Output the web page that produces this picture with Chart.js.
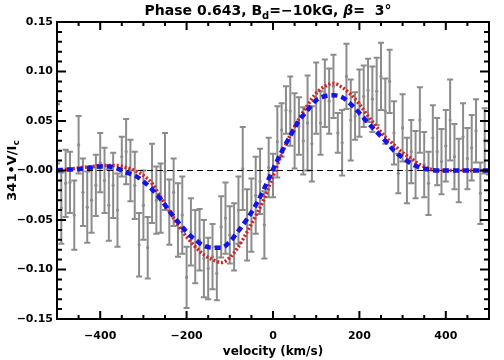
<!DOCTYPE html>
<html>
<head>
<meta charset="utf-8">
<script src="https://cdn.jsdelivr.net/npm/chart.js@4.4.1/dist/chart.umd.min.js"></script>
<style>
  body { margin: 0; background: #fff; }
  canvas { display: block; }
</style>
</head>
<body>
<canvas id="stokesChart" width="504" height="360"></canvas>
<script>
// observed Stokes V (grey points with error bars), km/s
const velocity = [
  -500, -490, -480, -470, -460, -450, -440, -430, -420, -410,
  -400, -390, -380, -370, -360, -350, -340, -330, -320, -310,
  -300, -290, -280, -270, -260, -250, -240, -230, -220, -210,
  -200, -190, -180, -170, -160, -150, -140, -130, -120, -110,
  -100, -90, -80, -70, -60, -50, -40, -30, -20, -10,
  0, 10, 20, 30, 40, 50, 60, 70, 80, 90,
  100, 110, 120, 130, 140, 150, 160, 170, 180, 190,
  200, 210, 220, 230, 240, 250, 260, 270, 280, 290,
  300, 310, 320, 330, 340, 350, 360, 370, 380, 390,
  400, 410, 420, 430, 440, 450, 460, 470, 480, 490, 500
];
const observed = [
  0.037, -0.038, -0.013, -0.012, -0.045, 0.026, -0.022, -0.037, -0.030, -0.015,
  0.008, -0.010, -0.035, -0.015, -0.040, 0.014, 0.019, 0.000, -0.015, -0.075,
  -0.035, -0.078, -0.013, -0.030, -0.028, -0.001, -0.042, -0.022, -0.050, -0.045,
  -0.108, -0.062, -0.077, -0.070, -0.089, -0.099, -0.087, -0.104, -0.057, -0.048,
  -0.065, -0.067, -0.040, 0.002, -0.055, -0.045, -0.025, -0.011, -0.055, 0.003,
  -0.005, 0.029, 0.041, 0.061, 0.060, 0.040, 0.045, 0.030, 0.048, 0.027,
  0.073, 0.048, 0.078, 0.070, 0.085, 0.038, 0.028, 0.095, 0.051, 0.055,
  0.068, 0.075, 0.081, 0.072, 0.080, 0.095, 0.060, 0.090, 0.038, -0.003,
  0.043, 0.000, 0.019, 0.006, 0.051, 0.006, -0.013, 0.033, 0.019, 0.009,
  0.025, 0.051, 0.014, 0.000, 0.034, 0.012, 0.023, 0.040, -0.023, 0.030, 0.028
];
const obsError = [
  0.030, 0.036, 0.034, 0.031, 0.035, 0.029, 0.034, 0.036, 0.033, 0.031,
  0.030, 0.033, 0.036, 0.033, 0.037, 0.020, 0.033, 0.031, 0.034, 0.032,
  0.035, 0.031, 0.040, 0.034, 0.035, 0.039, 0.033, 0.034, 0.037, 0.039,
  0.031, 0.034, 0.037, 0.031, 0.039, 0.031, 0.033, 0.027, 0.031, 0.036,
  0.029, 0.034, 0.034, 0.042, 0.036, 0.037, 0.039, 0.033, 0.034, 0.030,
  0.022, 0.036, 0.027, 0.024, 0.035, 0.038, 0.029, 0.034, 0.048, 0.038,
  0.036, 0.032, 0.034, 0.033, 0.032, 0.020, 0.033, 0.033, 0.041, 0.024,
  0.034, 0.031, 0.032, 0.033, 0.034, 0.034, 0.033, 0.032, 0.032, 0.020,
  0.034, 0.033, 0.032, 0.034, 0.033, 0.033, 0.032, 0.033, 0.034, 0.033,
  0.036, 0.041, 0.033, 0.032, 0.034, 0.031, 0.033, 0.032, 0.031, 0.033, 0.032
];

// model profiles
const modelVelocity = [
  -500, -480, -460, -440, -420, -400, -380, -360, -340, -320,
  -300, -280, -260, -240, -220, -200, -180, -160, -140, -120,
  -100, -80, -60, -40, -20, 0, 20, 40, 60, 80,
  100, 120, 140, 160, 180, 200, 220, 240, 260, 280,
  300, 320, 340, 360, 380, 400, 420, 440, 460, 480, 500
];
const modelRed = [
  0.000, 0.001, 0.002, 0.003, 0.004, 0.005, 0.005, 0.005, 0.003, 0.000,
  -0.005, -0.013, -0.027, -0.041, -0.055, -0.067, -0.077, -0.085, -0.090, -0.093,
  -0.088, -0.077, -0.062, -0.046, -0.028, -0.006, 0.016, 0.036, 0.052, 0.066,
  0.078, 0.085, 0.088, 0.084, 0.077, 0.067, 0.055, 0.044, 0.034, 0.026,
  0.018, 0.012, 0.006, 0.002, 0.000, 0.000, 0.000, 0.000, 0.000, 0.000, 0.000
];
const modelBlue = [
  0.000, 0.001, 0.001, 0.002, 0.003, 0.004, 0.004, 0.002, -0.002, -0.005,
  -0.011, -0.019, -0.029, -0.041, -0.052, -0.062, -0.070, -0.076, -0.078, -0.078,
  -0.072, -0.061, -0.049, -0.035, -0.018, 0.001, 0.019, 0.035, 0.050, 0.061,
  0.071, 0.075, 0.076, 0.074, 0.067, 0.058, 0.048, 0.039, 0.030, 0.020,
  0.013, 0.007, 0.003, 0.001, 0.000, 0.000, 0.000, 0.000, 0.000, 0.000, 0.000
];

const xTickValues = [-400, -200, 0, 200, 400];
const xTickLabels = ['\u2212400', '\u2212200', '0', '200', '400'];
const yTickValues = [-0.15, -0.10, -0.05, 0, 0.05, 0.10, 0.15];
const yTickLabels = ['\u22120.15', '\u22120.10', '\u22120.05', '\u22120.00', '0.05', '0.10', '0.15'];

const FONT = '"DejaVu Sans", sans-serif';

// grey error bars, drawn under the points
const errorBars = {
  id: 'errorBars',
  beforeDatasetsDraw(chart) {
    const { ctx, chartArea, scales: { x, y } } = chart;
    ctx.save();
    ctx.beginPath();
    ctx.rect(chartArea.left, chartArea.top, chartArea.right - chartArea.left, chartArea.bottom - chartArea.top);
    ctx.clip();
    ctx.strokeStyle = 'rgb(140,140,140)';
    ctx.lineWidth = 2;
    ctx.beginPath();
    velocity.forEach((v, i) => {
      const px = x.getPixelForValue(v);
      const top = y.getPixelForValue(observed[i] + obsError[i]);
      const bot = y.getPixelForValue(observed[i] - obsError[i]);
      ctx.moveTo(px, top); ctx.lineTo(px, bot);
      ctx.moveTo(px - 3, top); ctx.lineTo(px + 3, top);
      ctx.moveTo(px - 3, bot); ctx.lineTo(px + 3, bot);
    });
    ctx.stroke();
    ctx.restore();
  }
};

// IDL-like box with inward ticks, plus the titles
const frameAndText = {
  id: 'frameAndText',
  afterDatasetsDraw(chart) {
    const { ctx, chartArea: a, scales: { x, y } } = chart;
    ctx.save();
    ctx.strokeStyle = '#000';
    ctx.lineWidth = 2;
    ctx.strokeRect(a.left, a.top, a.right - a.left, a.bottom - a.top);
    ctx.beginPath();
    for (let v = -500; v <= 500; v += 50) {
      const px = x.getPixelForValue(v);
      const len = v % 200 === 0 ? 8 : 4;
      ctx.moveTo(px, a.bottom); ctx.lineTo(px, a.bottom - len);
      ctx.moveTo(px, a.top); ctx.lineTo(px, a.top + len);
    }
    for (let k = -15; k <= 15; k++) {
      const py = y.getPixelForValue(k / 100);
      const len = k % 5 === 0 ? 9 : 5;
      ctx.moveTo(a.left, py); ctx.lineTo(a.left + len, py);
      ctx.moveTo(a.right, py); ctx.lineTo(a.right - len, py);
    }
    ctx.stroke();

    ctx.fillStyle = '#000';
    ctx.textBaseline = 'alphabetic';

    // title with subscript
    const parts = [
      { t: 'Phase 0.643, B', f: 'bold 14px ' + FONT, dy: 0 },
      { t: 'd', f: 'bold 10px ' + FONT, dy: 4 },
      { t: '=\u221210kG, ', f: 'bold 14px ' + FONT, dy: 0 },
      { t: '\u03b2', f: 'italic bold 14px ' + FONT, dy: 0 },
      { t: '=  3\u00b0', f: 'bold 14px ' + FONT, dy: 0 }
    ];
    let total = 0;
    parts.forEach(p => { ctx.font = p.f; p.w = ctx.measureText(p.t).width; total += p.w; });
    let cx = 268 - total / 2;
    parts.forEach(p => { ctx.font = p.f; ctx.fillText(p.t, cx, 15 + p.dy); cx += p.w; });

    // x title
    ctx.font = 'bold 12px ' + FONT;
    ctx.textAlign = 'center';
    ctx.fillText('velocity (km/s)', (a.left + a.right) / 2, 355);

    // y title, rotated, with subscript c
    ctx.translate(16, (a.top + a.bottom) / 2);
    ctx.rotate(-Math.PI / 2);
    ctx.textAlign = 'left';
    ctx.font = 'bold 13px ' + FONT;
    const main = '341\u2022V/I';
    const w1 = ctx.measureText(main).width;
    ctx.font = 'bold 9px ' + FONT;
    const w2 = ctx.measureText('c').width;
    const sx = -(w1 + w2) / 2;
    ctx.font = 'bold 13px ' + FONT;
    ctx.fillText(main, sx, 0);
    ctx.font = 'bold 9px ' + FONT;
    ctx.fillText('c', sx + w1, 3);
    ctx.restore();
  }
};

new Chart(document.getElementById('stokesChart'), {
  type: 'line',
  data: {
    datasets: [
      {
        label: 'model 2',
        data: modelVelocity.map((v, i) => ({ x: v, y: modelBlue[i] })),
        borderColor: '#1414e6',
        borderWidth: 4.5,
        borderDash: [6, 4],
        pointRadius: 0,
        cubicInterpolationMode: 'monotone',
        order: 0
      },
      {
        label: 'model 1',
        data: modelVelocity.map((v, i) => ({ x: v, y: modelRed[i] })),
        borderColor: '#dc1e1e',
        borderWidth: 3.5,
        borderDash: [2, 2],
        pointRadius: 0,
        cubicInterpolationMode: 'monotone',
        order: 1
      },
      {
        label: 'observed',
        data: velocity.map((v, i) => ({ x: v, y: observed[i] })),
        showLine: false,
        pointRadius: 1.6,
        pointBackgroundColor: 'rgb(140,140,140)',
        pointBorderWidth: 0,
        order: 2
      },
      {
        label: 'zero',
        data: [{ x: -500, y: 0 }, { x: 500, y: 0 }],
        borderColor: '#000',
        borderWidth: 1,
        borderDash: [6, 4],
        pointRadius: 0,
        order: 3
      }
    ]
  },
  options: {
    responsive: false,
    animation: false,
    devicePixelRatio: 1,
    layout: { padding: { top: 22, right: 15, left: 0, bottom: 0 } },
    plugins: { legend: { display: false }, tooltip: { enabled: false } },
    scales: {
      x: {
        type: 'linear',
        min: -500,
        max: 500,
        grid: { display: false, drawTicks: false },
        border: { display: false },
        ticks: {
          color: '#000',
          font: { family: FONT, size: 11, weight: 'bold' },
          padding: 11,
          maxRotation: 0,
          autoSkip: false,
          callback: v => xTickLabels[xTickValues.indexOf(v)]
        },
        afterBuildTicks: s => { s.ticks = xTickValues.map(v => ({ value: v })); },
        afterFit: s => { s.height = 41; }
      },
      y: {
        type: 'linear',
        min: -0.15,
        max: 0.15,
        grid: { display: false, drawTicks: false },
        border: { display: false },
        ticks: {
          color: '#000',
          font: { family: FONT, size: 11, weight: 'bold' },
          padding: 4,
          autoSkip: false,
          callback: v => yTickLabels[yTickValues.indexOf(v)]
        },
        afterBuildTicks: s => { s.ticks = yTickValues.map(v => ({ value: v })); },
        afterFit: s => { s.width = 57; }
      }
    }
  },
  plugins: [errorBars, frameAndText]
});
</script>
</body>
</html>
